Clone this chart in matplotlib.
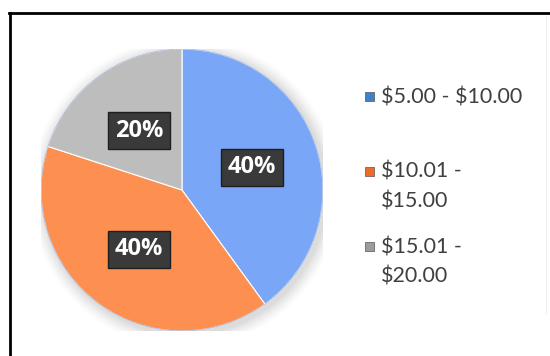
import matplotlib.pyplot as plt
from matplotlib.patches import Rectangle
from matplotlib.lines import Line2D

price_ranges = ["$5.00 - $10.00", "$10.01 -\n$15.00", "$15.01 -\n$20.00"]
shares = [40, 40, 20]
slice_colors = ["#7aa6f7", "#fd8f50", "#bdbdbd"]
key_colors = ["#3f7fcc", "#ee6a28", "#9c9c9c"]

W, H = 550, 356


def main():
    plt.rcParams['font.family'] = ['Lato', 'DejaVu Sans']
    plt.rcParams['text.parse_math'] = False
    fig = plt.figure(figsize=(W / 100, H / 100), dpi=100)
    fig.patch.set_facecolor('white')

    # pie centred at (182, 190) px, radius ~141 px
    r = 141
    cx, cy = 182, 190
    ax = fig.add_axes([(cx - r) / W, 1 - (cy + r) / H, 2 * r / W, 2 * r / H])

    # soft shadow behind the pie
    for k, a in zip(range(8, 0, -1), [0.02, 0.025, 0.03, 0.035, 0.04, 0.045, 0.05, 0.06]):
        ax.add_patch(plt.Circle((0.02, -0.02), 1 + k * 0.012, color='#888888',
                                alpha=a, lw=0, zorder=0))

    wedges, texts, autotexts = ax.pie(
        shares, colors=slice_colors, startangle=90, counterclock=False,
        autopct='%d%%', pctdistance=0.52, radius=1,
        wedgeprops=dict(edgecolor='white', linewidth=0.8),
        textprops=dict(color='white', fontsize=17, fontweight='bold',
                       family=['Open Sans', 'DejaVu Sans']))
    for t in autotexts:
        t.set_bbox(dict(boxstyle='square,pad=0.28', fc='#3a3a3a', ec='#1e1e1e', lw=1))
    ax.add_patch(plt.Circle((0, 0), 1, fill=False, ec='#5b79b8', lw=0.6, alpha=0.5))
    ax.set_xlim(-1, 1)
    ax.set_ylim(-1, 1)
    ax.set_aspect('auto')
    ax.axis('off')

    # legend with coloured keys
    for i, (lab, kc) in enumerate(zip(price_ranges, key_colors)):
        y = 96 + 75 * i
        fig.add_artist(Rectangle((365 / W, 1 - (y + 5) / H), 9 / W, 9 / H, fc=kc,
                                 ec='#555555', lw=0.5, transform=fig.transFigure))
        fig.text(381 / W, 1 - (y - 9) / H, lab, fontsize=15.5, color='#404040',
                 va='top', ha='left', linespacing=1.6)

    # frame lines along the top and left
    fig.add_artist(Line2D([9 / W, 1], [1 - 13 / H, 1 - 13 / H], color='black',
                          lw=2, transform=fig.transFigure))
    fig.add_artist(Line2D([10 / W, 10 / W], [0, 1 - 13 / H], color='black',
                          lw=2, transform=fig.transFigure))
    fig.add_artist(Line2D([546 / W, 546 / W], [0.12, 1 - 16 / H], color='#f0f0f0',
                          lw=0.8, transform=fig.transFigure))

    fig.savefig('out.png', dpi=100)


if __name__ == "__main__":
    main()
